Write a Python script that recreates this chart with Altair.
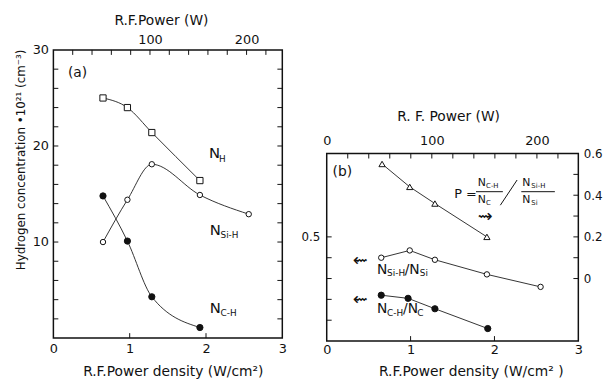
import altair as alt
import pandas as pd

# ---------------- data ----------------
# panel (a): hydrogen concentration (x10^21 cm^-3) vs R.F. power density (W/cm2)
dens_H = [0.65, 0.97, 1.29, 1.92]
conc_H = [25.0, 24.0, 21.4, 16.4]
dens_SiH = [0.65, 0.97, 1.29, 1.92, 2.56]
conc_SiH = [10.0, 14.4, 18.1, 14.9, 12.9]
dens_CH = [0.65, 0.97, 1.29, 1.92]
conc_CH = [14.8, 10.1, 4.3, 1.1]

# panel (b): ratios (left axis) and P (right axis)
dens_P = [0.66, 0.99, 1.29, 1.91]
p_val = [0.55, 0.44, 0.36, 0.20]
dens_rSi = [0.65, 0.99, 1.29, 1.91, 2.55]
ratio_Si = [0.40, 0.435, 0.39, 0.32, 0.26]
dens_rC = [0.65, 0.97, 1.29, 1.92]
ratio_C = [0.22, 0.205, 0.155, 0.06]

# axis ticks / labels
a_y_labels = [10, 20, 30]
a_y_ticks = [2, 4, 6, 8, 10, 12, 14, 16, 18, 20, 22, 24, 26, 28]
x_labels = [0, 1, 2, 3]
x_ticks = [1, 2]
w_ticks = [20, 40, 60, 80, 100, 120, 140, 160, 180, 200, 220]
a_w_labels = [100, 200]
b_w_labels = [0, 100, 200]
b_left_labels = [0.5]
b_left_ticks = [0.1, 0.2, 0.3, 0.4, 0.5]
b_right_labels = [0, 0.2, 0.4, 0.6]
b_right_ticks = [0, 0.1, 0.2, 0.3, 0.4, 0.5]

# annotations: text, x (density), y (data units), font size
a_txt = ["(a)", "N", "H", "N", "Si-H", "N", "C-H"]
a_txt_x = [0.19, 2.04, 2.17, 2.05, 2.19, 2.05, 2.19]
a_txt_y = [27.2, 18.8, 18.3, 10.7, 10.4, 2.6, 2.25]
a_txt_s = [14, 15, 9, 15, 9, 15, 9]

b_txt = ["(b)", "P =", "N", "C-H", "N", "C", "N", "Si-H", "N", "Si", "⇝",
         "⇜", "N", "Si-H", "/N", "Si", "⇜", "N", "C-H", "/N", "C"]
b_txt_x = [0.07, 1.52, 1.80, 1.90, 1.80, 1.90, 2.33, 2.44, 2.33, 2.44, 1.80,
           0.31, 0.60, 0.72, 0.93, 1.11, 0.31, 0.60, 0.72, 0.91, 1.08]
b_txt_y = [0.79, 0.685, 0.745, 0.735, 0.662, 0.652, 0.745, 0.735, 0.662, 0.652, 0.572,
           0.36, 0.323, 0.31, 0.323, 0.31, 0.173, 0.136, 0.122, 0.136, 0.122]
b_txt_s = [14, 13, 11, 7, 11, 7, 11, 7, 11, 7, 18,
           18, 14, 9, 14, 9, 18, 14, 9, 14, 9]

# fraction bars and slash in the formula (density, ratio units)
b_seg_x = [1.78, 2.32, 2.07]
b_seg_x2 = [2.10, 2.72, 2.27]
b_seg_y = [0.717, 0.717, 0.652]
b_seg_y2 = [0.717, 0.717, 0.773]

# ---------------- styling ----------------
FONT = "DejaVu Sans"
INK = "#111111"
LINE = "#333333"
WA, HA = 232, 292
WB, HB = 255, 190
TK = 5


def axis(**kw):
    base = dict(tickSize=0, domain=False, grid=False, labelFlush=False,
                labelOverlap=False, labelFont=FONT, labelFontSize=13,
                labelColor=INK, titleFont=FONT, titleFontSize=14,
                titleFontWeight="normal", titleColor=INK)
    base.update(kw)
    return alt.Axis(**base)


def series(xs, ys, xsc, ysc, axx, axy, shape, fill, size, interp):
    df = pd.DataFrame({"d": xs, "v": ys})
    base = alt.Chart(df).encode(
        x=alt.X("d:Q", scale=xsc, axis=axx),
        y=alt.Y("v:Q", scale=ysc, axis=axy))
    line = base.mark_line(color=LINE, strokeWidth=1, interpolate=interp)
    pts = base.mark_point(shape=shape, filled=True, fill=fill, stroke=INK,
                          strokeWidth=1, size=size, opacity=1)
    return [line, pts]


def hticks(vals, ysc, x0, x1, ax=None):
    df = pd.DataFrame({"v": vals})
    return alt.Chart(df).mark_rule(color=INK, strokeWidth=1).encode(
        y=alt.Y("v:Q", scale=ysc, axis=ax),
        x=alt.value(x0), x2=alt.value(x1))


def vticks(vals, xsc, y0, y1, ax=None, field="d"):
    df = pd.DataFrame({field: vals})
    return alt.Chart(df).mark_rule(color=INK, strokeWidth=1).encode(
        x=alt.X(f"{field}:Q", scale=xsc, axis=ax),
        y=alt.value(y0), y2=alt.value(y1))


def texts(xs, ys, labels, sizes, xsc, ysc, axx, axy):
    df = pd.DataFrame({"d": xs, "v": ys, "t": labels, "s": sizes})
    return alt.Chart(df).mark_text(align="left", baseline="alphabetic",
                                   font=FONT, color=INK).encode(
        x=alt.X("d:Q", scale=xsc, axis=axx),
        y=alt.Y("v:Q", scale=ysc, axis=axy),
        text="t:N",
        size=alt.Size("s:Q", scale=None, legend=None))


# ---------------- panel (a) ----------------
xa = alt.Scale(domain=[0, 3], nice=False, zero=False)
ya = alt.Scale(domain=[0, 30], nice=False, zero=False)
wa = alt.Scale(domain=[0, 237], nice=False, zero=False)

ax_a_left = axis(values=a_y_labels, labelPadding=5, titlePadding=5, titleY=111,
                 title="Hydrogen concentration •10²¹ (cm⁻³)", titleFontSize=12)
ax_a_bottom = axis(values=x_labels, labelPadding=5, titlePadding=9, titleX=121,
                   title="R.F.Power   density (W/cm²)")
ax_a_top = axis(orient="top", values=a_w_labels, labelPadding=4,
                titlePadding=6, titleX=109, title="R.F.Power (W)")

gD_a = alt.layer(
    hticks(a_y_ticks, ya, 0, TK, ax_a_left),
    hticks(a_y_ticks, ya, WA - TK, WA, ax_a_left),
    vticks(x_ticks, xa, HA - TK, HA, ax_a_bottom),
    *series(dens_H, conc_H, xa, ya, ax_a_bottom, ax_a_left, "square", "white", 40, "monotone"),
    *series(dens_SiH, conc_SiH, xa, ya, ax_a_bottom, ax_a_left, "circle", "white", 30, "monotone"),
    *series(dens_CH, conc_CH, xa, ya, ax_a_bottom, ax_a_left, "circle", INK, 40, "monotone"),
    texts(a_txt_x, a_txt_y, a_txt, a_txt_s, xa, ya, ax_a_bottom, ax_a_left),
)
gW_a = vticks(w_ticks, wa, 0, TK, ax_a_top, field="w")
panel_a = alt.layer(gD_a, gW_a).resolve_scale(x="independent").properties(
    width=WA, height=HA)

# ---------------- panel (b) ----------------
xb = alt.Scale(domain=[0, 3], nice=False, zero=False)
yb = alt.Scale(domain=[0, 0.9], nice=False, zero=False)
pb = alt.Scale(domain=[-0.3, 0.6], nice=False, zero=False)
wb = alt.Scale(domain=[0, 239.4], nice=False, zero=False)

ax_b_left = axis(values=b_left_labels, format=".1f", labelPadding=7, title=None,
                 labelFontSize=12)
ax_b_right = axis(orient="right", values=b_right_labels, labelPadding=5,
                  labelExpr="datum.value == 0 ? '0' : format(datum.value, '.1f')",
                  title=None, labelFontSize=12)
ax_b_bottom = axis(values=x_labels, labelPadding=3, titlePadding=8, titleX=146,
                   title="R.F.Power  density  (W/cm² )")
ax_b_top = axis(orient="top", values=b_w_labels, labelPadding=6,
                titlePadding=11, titleX=123, title="R. F.  Power  (W)")

seg_df = pd.DataFrame({"d": b_seg_x, "d2": b_seg_x2, "v": b_seg_y, "v2": b_seg_y2})
segs = alt.Chart(seg_df).mark_rule(color=INK, strokeWidth=1).encode(
    x=alt.X("d:Q", scale=xb, axis=ax_b_bottom), x2="d2:Q",
    y=alt.Y("v:Q", scale=yb, axis=ax_b_left), y2="v2:Q")

gD_b = alt.layer(
    hticks(b_left_ticks, yb, 0, TK, ax_b_left),
    vticks(x_ticks, xb, HB - TK, HB, ax_b_bottom),
    *series(dens_rSi, ratio_Si, xb, yb, ax_b_bottom, ax_b_left, "circle", "white", 30, "linear"),
    *series(dens_rC, ratio_C, xb, yb, ax_b_bottom, ax_b_left, "circle", INK, 40, "linear"),
    texts(b_txt_x, b_txt_y, b_txt, b_txt_s, xb, yb, ax_b_bottom, ax_b_left),
    segs,
)
gP_b = alt.layer(
    hticks(b_right_ticks, pb, WB - TK, WB, ax_b_right),
    *series(dens_P, p_val, xb, pb, None, ax_b_right, "triangle-up", "white", 40, "linear"),
)
gW_b = vticks(w_ticks, wb, 0, TK, ax_b_top, field="w")
panel_b = alt.layer(gD_b, gP_b, gW_b).resolve_scale(
    x="independent", y="independent").properties(width=WB, height=HB)

spacer = alt.Chart(pd.DataFrame({"z": [0]})).mark_point(opacity=0, size=0).properties(
    width=10, height=105, view=alt.ViewBackground(stroke=None))

chart = alt.hconcat(
    panel_a,
    alt.vconcat(spacer, panel_b, spacing=0, bounds="flush"),
    spacing=45, bounds="flush",
).properties(
    padding={"left": 5, "top": 2, "right": 0, "bottom": 0},
    background="white",
).configure_view(stroke=INK, strokeWidth=1.5)

chart.save("out.html", embed_options={"renderer": "svg", "actions": False})
